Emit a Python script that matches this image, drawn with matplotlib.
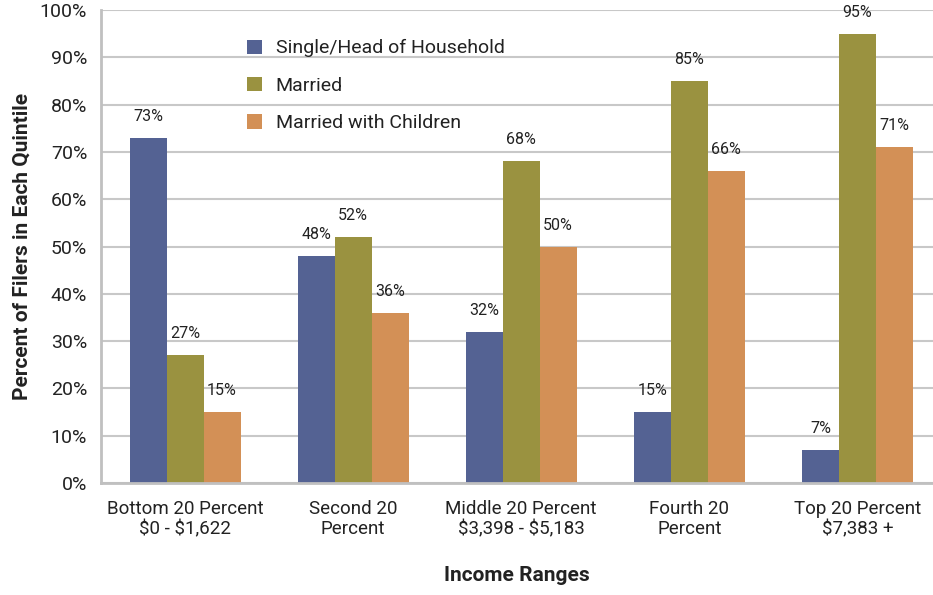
import numpy as np
import matplotlib.pyplot as plt
from matplotlib import font_manager

# pick a narrow sans if one is around
names = {f.name for f in font_manager.fontManager.ttflist}
family = 'Liberation Sans Narrow' if 'Liberation Sans Narrow' in names else 'Roboto'
plt.rcParams['font.family'] = [family, 'DejaVu Sans']

quintiles = ['Bottom 20 Percent\n\\$0 - \\$1,622', 'Second 20\nPercent',
             'Middle 20 Percent\n\\$3,398 - \\$5,183', 'Fourth 20\nPercent',
             'Top 20 Percent\n\\$7,383 +']
single = [73, 48, 32, 15, 7]
married = [27, 52, 68, 85, 95]
married_kids = [15, 36, 50, 66, 71]
series_names = ['Single/Head of Household', 'Married', 'Married with Children']
colors = ['#546293', '#9a9240', '#d39056']
text_color = '#222222'

fig = plt.figure(figsize=(9.33, 5.95), dpi=100)
ax = fig.add_axes([0.1083, 0.1882, 0.8917, 0.795])

x = np.arange(len(quintiles))
w = 0.22
for i, (vals, name, c) in enumerate(zip([single, married, married_kids], series_names, colors)):
    pos = x + (i - 1) * w
    ax.bar(pos, vals, width=w, color=c, label=name, zorder=3)
    for px, v in zip(pos, vals):
        ax.annotate(f'{v}%', (px, v), xytext=(0, 10), textcoords='offset points',
                    ha='center', va='bottom', fontsize=11.5, color=text_color)

ax.set_xlim(-0.5, 4.45)
ax.set_ylim(0, 100)
ax.set_yticks(range(0, 101, 10))
ax.set_yticklabels([f'{t}%' for t in range(0, 101, 10)], fontsize=14, color=text_color)
ax.set_xticks(x)
ax.set_xticklabels(quintiles, fontsize=13.5, color=text_color, linespacing=1.2)
ax.tick_params(length=0)
ax.tick_params(axis='x', pad=12)
ax.tick_params(axis='y', pad=10)

ax.grid(axis='y', color='#c8c8c8', linewidth=1.5, zorder=0)
for s in ['top', 'right']:
    ax.spines[s].set_visible(False)
for s in ['left', 'bottom']:
    ax.spines[s].set_color('#c0c0c0')
    ax.spines[s].set_linewidth(2)
    ax.spines[s].set_zorder(4)

ax.set_ylabel('Percent of Filers in Each Quintile', fontsize=15, fontweight='bold',
              color=text_color, labelpad=6)
ax.set_xlabel('Income Ranges', fontsize=15, fontweight='bold', color=text_color, labelpad=20)

ax.legend(loc='upper left', bbox_to_anchor=(0.155, 0.975), frameon=False, fontsize=14,
          handlelength=0.75, handleheight=0.75, labelspacing=1.0, handletextpad=0.7,
          labelcolor=text_color)

fig.savefig('out.png', dpi=100)
